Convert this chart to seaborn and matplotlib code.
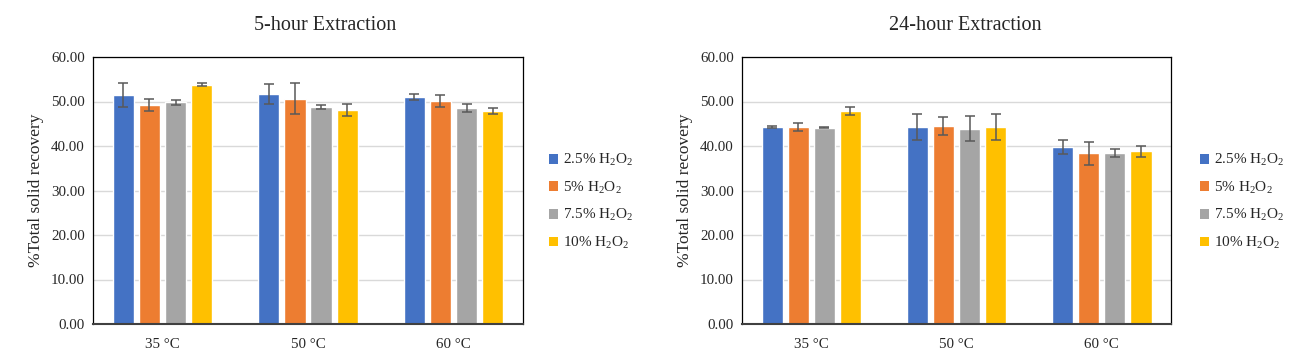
import pandas as pd
import matplotlib.pyplot as plt
import seaborn as sns
from matplotlib.patches import Patch

temps = ['35 °C', '50 °C', '60 °C']
concs = ['2.5%', '5%', '7.5%', '10%']
colors = ['#4472C4', '#ED7D31', '#A5A5A5', '#FFC000']

# values per concentration, one entry per temperature
vals_5h = {
    '2.5%': [51.5, 51.7, 51.0],
    '5%': [49.2, 50.6, 50.1],
    '7.5%': [49.8, 48.8, 48.5],
    '10%': [53.8, 48.1, 47.9],
}
err_5h = {
    '2.5%': [2.7, 2.2, 0.75],
    '5%': [1.35, 3.5, 1.3],
    '7.5%': [0.5, 0.5, 0.9],
    '10%': [0.3, 1.45, 0.6],
}
vals_24h = {
    '2.5%': [44.3, 44.3, 39.8],
    '5%': [44.3, 44.5, 38.4],
    '7.5%': [44.1, 43.9, 38.5],
    '10%': [47.9, 44.3, 38.8],
}
err_24h = {
    '2.5%': [0.15, 2.9, 1.5],
    '5%': [0.9, 1.95, 2.6],
    '7.5%': [0.15, 2.75, 0.9],
    '10%': [0.9, 3.0, 1.3],
}

sns.set_style('white')
plt.rcParams['font.family'] = ['Liberation Serif', 'DejaVu Serif']
plt.rcParams['mathtext.fontset'] = 'custom'
plt.rcParams['mathtext.rm'] = 'Liberation Serif'
plt.rcParams['mathtext.it'] = 'Liberation Serif:italic'


def to_frame(vals):
    rows = []
    for c in concs:
        for t, v in zip(temps, vals[c]):
            rows.append({'temp': t, 'conc': c, 'value': v})
    return pd.DataFrame(rows)


def draw_panel(fig, rect, vals, errs, title, title_x, legend_x):
    ax = fig.add_axes(rect)
    df = to_frame(vals)
    sns.barplot(data=df, x='temp', y='value', hue='conc', order=temps,
                hue_order=concs, palette=colors, width=0.72, gap=0.19,
                errorbar=None, legend=False, saturation=1, ax=ax, zorder=2)
    # error bars at the bar centres seaborn placed
    for c, cont in zip(concs, ax.containers):
        xs = [p.get_x() + p.get_width() / 2 for p in cont.patches]
        hs = [p.get_height() for p in cont.patches]
        ax.errorbar(xs, hs, yerr=errs[c], fmt='none', ecolor='#595959',
                    elinewidth=1.1, capsize=3.8, capthick=1.1, zorder=3)
    ax.set_ylim(0, 60)
    ax.set_yticks(range(0, 61, 10))
    ax.set_yticklabels([f'{v:.2f}' for v in range(0, 61, 10)], fontsize=10.8)
    ax.tick_params(axis='x', labelsize=10.8, length=0, pad=10)
    ax.tick_params(axis='y', length=0, pad=6)
    ax.yaxis.grid(True, color='#d9d9d9', linewidth=1, zorder=0)
    ax.set_axisbelow(True)
    ax.set_xlabel('')
    ax.set_ylabel('%Total solid recovery', fontsize=12.5, labelpad=5)
    for s in ['left', 'top', 'right']:
        ax.spines[s].set_color('black')
        ax.spines[s].set_linewidth(0.9)
    ax.spines['bottom'].set_color('#404040')
    ax.spines['bottom'].set_linewidth(1.5)
    fig.text(title_x, 1 - 25 / 362, title, ha='center', va='center', fontsize=14.5)
    handles = [Patch(facecolor=col, edgecolor='none') for col in colors]
    labels = [f'{c} H$_2$O$_2$' for c in concs]
    fig.legend(handles, labels, loc='upper left',
               bbox_to_anchor=(legend_x, 1 - 146 / 362), frameon=False,
               fontsize=11, handlelength=0.6, handleheight=0.6,
               handletextpad=0.3, labelspacing=0.75, borderaxespad=0)
    return ax


fig = plt.figure(figsize=(12.99, 3.62), dpi=100)
draw_panel(fig, [93 / 1299, 38 / 362, 430 / 1299, 267 / 362],
           vals_5h, err_5h, '5-hour Extraction', 325 / 1299, 543 / 1299)
draw_panel(fig, [742 / 1299, 38 / 362, 429 / 1299, 267 / 362],
           vals_24h, err_24h, '24-hour Extraction', 965 / 1299, 1194 / 1299)

plt.savefig('out.png', dpi=100)
plt.close()
